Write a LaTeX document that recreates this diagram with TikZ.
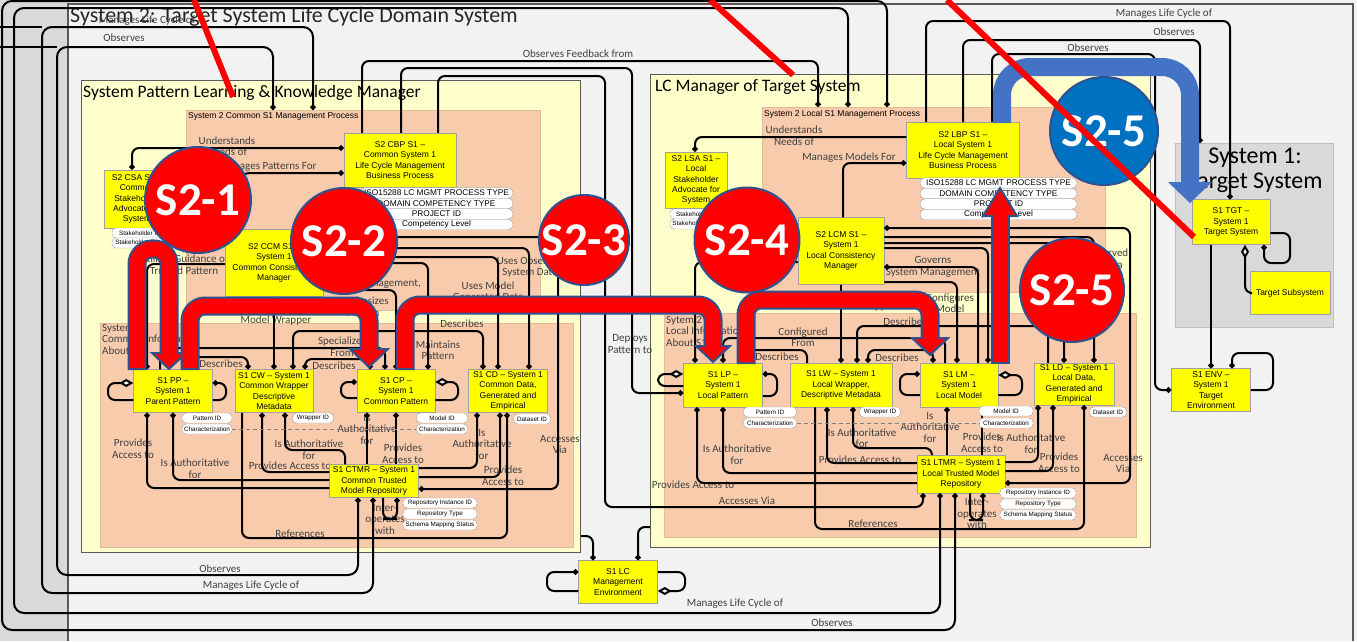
\documentclass[tikz,border=0pt]{standalone}
\usepackage{fontspec}
\setmainfont{Carlito}
\newfontfamily\boxfont{Liberation Sans}
\usepackage{tikz}
\usetikzlibrary{arrows.meta}
\definecolor{bggray}{RGB}{242,242,242}
\definecolor{stripgray}{RGB}{217,217,217}
\definecolor{framegray}{RGB}{89,89,89}
\definecolor{paleyellow}{RGB}{255,255,204}
\definecolor{salmon}{RGB}{248,203,173}
\definecolor{salmonline}{RGB}{228,186,152}
\definecolor{nodeyellow}{RGB}{255,255,0}
\definecolor{nodeline}{RGB}{160,160,160}
\definecolor{labelgray}{RGB}{64,64,64}
\definecolor{sysgray}{RGB}{217,217,217}
\definecolor{sysline}{RGB}{191,191,191}
\definecolor{markred}{RGB}{255,0,0}
\definecolor{markblue}{RGB}{0,112,192}
\definecolor{arrowblue}{RGB}{68,114,196}
\definecolor{rimblue}{RGB}{47,82,143}

\begin{document}
\begin{tikzpicture}[x=1pt,y=-1pt,
  panel/.style={draw=framegray, line width=1pt, fill=paleyellow, anchor=north west, inner sep=0pt},
  salmonbox/.style={draw=salmonline, line width=0.6pt, fill=salmon, anchor=north west, inner sep=0pt},
  ybox/.style={draw=nodeline, line width=0.5pt, fill=nodeyellow, font=\boxfont\fontsize{8.5}{10.3}\selectfont, align=center, inner sep=1pt},
  tagbox/.style={draw=nodeline, line width=0.4pt, fill=white, rounded corners=4pt, font=\boxfont\fontsize{6.3}{7}\selectfont, inner sep=0.5pt, minimum height=10pt},
  bigtag/.style={tagbox, font=\boxfont\fontsize{8.3}{9}\selectfont, minimum height=10.5pt, rounded corners=5pt},
  lab/.style={font=\fontsize{11}{11.5}\selectfont, text=labelgray, align=center, inner sep=0pt},
  conn/.style={draw=black, line width=2pt, rounded corners=7pt},
  dotS/.style={{Circle[length=5.5pt]}-},
  dotE/.style={-{Circle[length=5.5pt]}},
  dotB/.style={{Circle[length=5.5pt]}-{Circle[length=5.5pt]}},
  diamS/.style={{Diamond[length=14pt,width=8pt,fill=white]}-},
  dashline/.style={draw=gray, line width=0.8pt, dash pattern=on 4pt off 3pt},
  rimpath/.style={draw=rimblue, line width=19pt, rounded corners=15pt},
  redpath/.style={draw=markred, line width=15pt, rounded corners=15pt},
  headred/.style={fill=markred, draw=rimblue, line width=2pt, line join=miter},
  badge/.style={circle, draw=rimblue, line width=2pt, text=white, font=\bfseries\fontsize{47}{47}\selectfont, inner sep=0pt},
  slash/.style={draw=markred, line width=6pt}]
\useasboundingbox (0,0) rectangle (1357,641);

% Backdrop and outer frame
\fill[bggray] (0,0) rectangle (1357,641);
\fill[stripgray] (0,0) rectangle (68,641);
\draw[framegray, line width=1.5pt] (68,641) -- (68,4) -- (1353,4) -- (1353,641);
\node[anchor=west, font=\fontsize{22}{24}\selectfont, text=black!85, inner sep=0pt] (sysTitle) at (70,17) {System 2: Target System Life Cycle Domain System};

% Containers
\node[panel, minimum width=499pt, minimum height=472pt] (lpanel) at (81,80) {};
\node[anchor=west, font=\fontsize{17.5}{20}\selectfont, inner sep=0pt] (lpanelTitle) at (83,93) {System Pattern Learning \& Knowledge Manager};
\node[salmonbox, minimum width=354pt, minimum height=200pt] (lss) at (186,110) {};
\node[anchor=west, font=\boxfont\fontsize{8.5}{10}\selectfont, inner sep=0pt] (lssTitle) at (188,116) {System 2 Common S1 Management Process};
\node[salmonbox, minimum width=473pt, minimum height=224pt] (lis) at (100,323) {};
\node[lab, anchor=north west, align=left] (lisTitle) at (102,324) {System 2\\Common Information\\About S1};
\node[panel, minimum width=500pt, minimum height=473pt] (rpanel) at (650,74) {};
\node[anchor=west, font=\fontsize{17.5}{20}\selectfont, inner sep=0pt] (rpanelTitle) at (655,87) {LC Manager of Target System};
\node[salmonbox, minimum width=343pt, minimum height=185pt] (rss) at (762,107) {};
\node[anchor=west, font=\boxfont\fontsize{8.5}{10}\selectfont, inner sep=0pt] (rssTitle) at (764,114) {System 2 Local S1 Management Process};
\node[salmonbox, minimum width=472pt, minimum height=224pt] (ris) at (664,313) {};
\node[lab, anchor=north west, align=left] (risTitle) at (666,316) {Sytem 2\\Local Information\\About S1};
\node[draw=sysline, fill=sysgray, anchor=north west, inner sep=0pt, minimum width=158pt, minimum height=184pt] (s1box) at (1175,143) {};
\node[font=\fontsize{24}{25}\selectfont, align=center, inner sep=0pt] (s1Title) at (1255,170) {System 1:\\Target System};

% Connector labels
\node[lab] (lbA) at (147,21) {Manages Life Cycle of};
\node[lab] (lbB) at (124,38) {Observes};
\node[lab] (lbC) at (220,569) {Observes};
\node[lab] (lbD) at (251,586) {Manages Life Cycle of};
\node[lab] (lbE) at (578,54) {Observes Feedback from};
\node[lab] (lbF) at (227,146) {Understands\\Needs of};
\node[lab] (lbG) at (268,167) {Manages Patterns For};
\node[lab] (lbH) at (184,264.5) {Utilizes Guidance of\\Trusted Pattern};
\node[lab] (lbI) at (276,321) {Model Wrapper};
\node[lab, anchor=east] (lbJ) at (421,284) {Management,};
\node[lab] (lbK) at (363,306.5) {Synthesizes\\Pattern};
\node[lab] (lbL) at (488,291) {Uses Model\\Generated Data};
\node[lab] (lbM) at (530,267) {Uses Observed\\System Data};
\node[lab] (lbN) at (342,346.5) {Specializes\\From};
\node[lab] (lbO) at (221,364) {Describes};
\node[lab] (lbP) at (334,366) {Describes};
\node[lab] (lbQ) at (438,350) {Maintains\\Pattern};
\node[lab] (lbR) at (462,324) {Describes};
\node[lab] (lbS) at (133,448.5) {Provides\\Access to};
\node[lab] (lbT) at (195,468.5) {Is Authoritative\\for};
\node[lab] (lbU) at (309,449.5) {Is Authoritative\\for};
\node[lab] (lbV) at (290,466) {Provides Access to};
\node[lab] (lbW) at (367,429) {Is\\Authoritative\\for};
\node[lab] (lbX) at (403,453.5) {Provides\\Access to};
\node[lab] (lbY) at (482,444) {Is\\Authoritative\\for};
\node[lab] (lbZ) at (503,475.5) {Provides\\Access to};
\node[lab] (lbAa) at (560,444.5) {Accesses\\Via};
\node[lab] (lbAb) at (385,519) {Inter-\\operates\\with};
\node[lab] (lbAc) at (300,534) {References};
\node[lab] (lbBa) at (794,135.5) {Understands\\Needs of};
\node[lab] (lbBb) at (849,158) {Manages Models For};
\node[lab] (lbBc) at (933,267) {Governs\\System Management};
\node[lab] (lbBd) at (950,303) {Configures\\Model};
\node[lab] (lbBe) at (836,307) {Consistent Model Wrapper};
\node[lab] (lbBf) at (1095,259.5) {Uses Observed\\System Data};
\node[lab] (lbBg) at (803,337) {Configured\\From};
\node[lab] (lbBh) at (777,357) {Describes};
\node[lab] (lbBi) at (897,358) {Describes};
\node[lab] (lbBj) at (905,322) {Describes};
\node[lab] (lbBk) at (630,343.5) {Deploys\\Pattern to};
\node[lab] (lbBl) at (737,454.5) {Is Authoritative\\for};
\node[lab] (lbBm) at (693,485) {Provides Access to};
\node[lab] (lbBn) at (747,501) {Accesses Via};
\node[lab] (lbBo) at (873,524) {References};
\node[lab] (lbBp) at (862,438) {Is Authoritative\\for};
\node[lab] (lbBq) at (860,460) {Provides Access to};
\node[lab] (lbBr) at (930,427) {Is\\Authoritative\\for};
\node[lab] (lbBs) at (982,442.5) {Provides\\Access to};
\node[lab] (lbBt) at (1031,443.5) {Is Authoritative\\for};
\node[lab] (lbBu) at (1059,462.5) {Provides\\Access to};
\node[lab] (lbBv) at (1123,463.5) {Accesses\\Via};
\node[lab] (lbBw) at (977,513.5) {Inter-\\operates\\with};
\node[lab] (lbBx) at (1164,14) {Manages Life Cycle of};
\node[lab] (lbBy) at (1174,32) {Observes};
\node[lab] (lbBz) at (1088,48) {Observes};
\node[lab] (lbCa) at (832,623) {Observes};
\node[lab] (lbCb) at (735,604) {Manages Life Cycle of};

% System 2 common elements
\node[ybox, minimum width=66pt, minimum height=58pt] (csa) at (137,199) {S2 CSA S1 \textendash\\Common\\Stakeholder\\Advocate for\\System};
\node[ybox, minimum width=112pt, minimum height=54pt] (cbp) at (400,160) {S2 CBP S1 \textendash\\Common System 1\\Life Cycle Management\\Business Process};
\node[ybox, minimum width=98pt, minimum height=67pt] (ccm) at (274,263) {S2 CCM S1 \textendash\\System 1\\Common Consistency\\Manager};
\node[ybox, minimum width=79pt, minimum height=43pt] (pp) at (173,391) {S1 PP \textendash\\System 1\\Parent Pattern};
\node[ybox, minimum width=78pt, minimum height=43pt] (cw) at (274,391) {S1 CW \textendash{} System 1\\Common Wrapper\\Descriptive\\Metadata};
\node[ybox, minimum width=78pt, minimum height=43pt] (cp) at (396,391) {S1 CP \textendash\\System 1\\Common Pattern};
\node[ybox, minimum width=79pt, minimum height=43pt] (cd) at (508,391) {S1 CD \textendash{} System 1\\Common Data,\\Generated and\\Empirical};
\node[ybox, minimum width=89pt, minimum height=33pt] (ctmr) at (374,481) {S1 CTMR \textendash{} System 1\\Common Trusted\\Model Repository};
\node[ybox, minimum width=79pt, minimum height=43pt] (lc) at (618,582) {S1 LC\\Management\\Environment};
% System 2 local elements
\node[ybox, minimum width=62pt, minimum height=56pt] (lsa) at (696,180) {S2 LSA S1 \textendash\\Local\\Stakeholder\\Advocate for\\System};
\node[ybox, minimum width=113pt, minimum height=56pt] (lbp) at (963,150) {S2 LBP S1 \textendash\\Local System 1\\Life Cycle Management\\Business Process};
\node[ybox, minimum width=86pt, minimum height=67pt] (lcm) at (841,251) {S2 LCM S1 \textendash\\System 1\\Local Consistency\\Manager};
\node[ybox, minimum width=79pt, minimum height=44pt] (lp) at (723,385) {S1 LP \textendash\\System 1\\Local Pattern};
\node[ybox, minimum width=102pt, minimum height=44pt] (lw) at (841,385) {S1 LW \textendash{} System 1\\Local Wrapper,\\Descriptive Metadata};
\node[ybox, minimum width=78pt, minimum height=44pt] (lm) at (959,385) {S1 LM \textendash\\System 1\\Local Model};
\node[ybox, minimum width=80pt, minimum height=42pt] (ld) at (1074,384) {S1 LD \textendash{} System 1\\Local Data,\\Generated and\\Empirical};
\node[ybox, minimum width=88pt, minimum height=38pt] (ltmr) at (961,474) {S1 LTMR \textendash{} System 1\\Local Trusted Model\\Repository};
% System 1
\node[ybox, minimum width=78pt, minimum height=45pt] (tgt) at (1231,222) {S1 TGT \textendash\\System 1\\Target System};
\node[ybox, minimum width=80pt, minimum height=43pt] (tsub) at (1290,293) {Target Subsystem};
\node[ybox, minimum width=79pt, minimum height=43pt] (env) at (1211,390) {S1 ENV \textendash\\System 1\\Target\\Environment};

% Outer loops
\coordinate (edgeA) at (0,27);
\coordinate (edgeB) at (0,47);
\draw[conn] (edgeA) -- (42,27);
\draw[conn] (edgeB) -- (57,47);
\draw[conn,rounded corners=10pt,dotB] (ctmr.south -| 358,0) |- (57,575) -- (57,47) -| (lss.north -| 273,0);
\draw[conn,rounded corners=10pt,dotB] (ctmr.south -| 373,0) |- (42,593) -- (42,27) -| (lss.north -| 313,0);
\draw[conn,rounded corners=10pt,dotB] (ltmr.south -| 955,0) |- (2,630) -- (2,1) -| (rss.north -| 887,0);
\draw[conn,rounded corners=10pt,dotB] (ltmr.south -| 940,0) |- (14,613) -- (14,8) -| (rss.north -| 848,0);
\draw[conn,dotE] (cbp.north -| 362,0) |- (600,61) -| (rss.north -| 818,0);
\draw[conn,dotE] (cbp.north -| 401,0) |- (520,68) -| (632,393) -- (lp.west |- 0,393);
\draw[conn,dotE] (cbp.north -| 438,0) |- (520,76) -| (605,507) -| (ltmr.south -| 923,0);

% Common side
\draw[conn,dotB] (csa.north -| 132,0) |- (cbp.west |- 0,148);
\draw[conn,dotS] (cbp.west |- 0,173) -| (ccm.north -| 242,0);
\draw[conn,dotS] (pp.north -| 147,0) |- (ccm.west |- 0,264);
\draw[conn,dotB] (pp.north -| 193,0) -- (193,357) -| (cw.north -| 248,0);
\draw[conn,dotE] (ccm.south) -- (cw.north);
\draw[conn,dotE] (pp.north -| 160,0) |- (290,348) -| (cp.north -| 385,0);
\draw[conn,dotB] (cw.north -| 305,0) |- (340,359) -| (cp.north -| 370,0);
\draw[conn,dotB] (cw.north -| 293,0) |- (400,331) -| (cd.north -| 483,0);
\draw[conn,dotE] (ccm.east |- 0,263) -| (cp.north -| 428,0);
\draw[conn,dotE] (ccm.east |- 0,290) -| (cp.north -| 396,0);
\draw[conn,dotE] (ccm.east |- 0,257) -| (cd.north -| 498,0);
\draw[conn,dotE] (ccm.east |- 0,248) -| (cd.north -| 529,0);
\draw[conn,dotS] (ctmr.east |- 0,489) -| (558,237) -- (ccm.east |- 0,237);
\draw[conn,dotS] (pp.east |- 0,383) -| (226,400) -- (pp.east |- 0,400);
\draw[conn,diamS] (pp.west |- 0,383) -| (108,400) -- (pp.west |- 0,400);
\draw[conn,dotS] (cp.west |- 0,382) -| (341,398) -- (cp.west |- 0,398);
\draw[conn,diamS] (cp.east |- 0,382) -| (458,400) -- (cp.east |- 0,400);
\draw[conn,dotS] (pp.south -| 147,0) |- (ctmr.west |- 0,488);
\draw[conn,dotS] (pp.south -| 173,0) |- (ctmr.west |- 0,480);
\draw[conn,dotE] (cw.south -| 242,0) |- (400,538) -| (cd.south -| 507,0);
\draw[conn,dotS] (cw.south -| 262,0) |- (ctmr.west |- 0,472);
\draw[conn,dotS] (cw.south -| 285,0) |- (345,450) -- (ctmr.north -| 345,0);
\draw[conn,dotS] (cp.south -| 367,0) -- (ctmr.north -| 367,0);
\draw[conn,dotS] (cp.south -| 396,0) -- (ctmr.north -| 396,0);
\draw[conn,dotS] (cd.south -| 477,0) |- (ctmr.east |- 0,468);
\draw[conn,dotS] (cd.south -| 500,0) |- (ctmr.east |- 0,477);
\draw[conn,dotE] (ctmr.south -| 383,0) |- (390,519) -| (ctmr.south -| 397,0);
\draw[conn,dotS] (lc.north -| 593,0) |- (lpanel.east |- 0,536);
\draw[conn,dotS] (lc.north -| 638,0) |- (rpanel.west |- 0,527);
\draw[conn,dotS] (lc.west |- 0,572) -| (547,591) -- (lc.west |- 0,591);
\draw[conn,diamS] (lc.east |- 0,591) -| (685,572) -- (lc.east |- 0,572);

% Local side
\draw[conn,dotE] (lbp.west |- 0,137) -| (lsa.north -| 695,0);
\draw[conn,dotS] (lbp.west |- 0,163) -| (lcm.north -| 843,0);
\draw[conn,dotS] (lp.north -| 695,0) |- (lcm.west |- 0,262);
\draw[conn,dotB] (lcm.east |- 0,228) -| (1130,483) -- (ltmr.east |- 0,483);
\draw[conn,dotE] (lcm.east |- 0,237) -| (ld.north -| 1094,0);
\draw[conn,dotE] (lcm.east |- 0,243) -| (ld.north -| 1064,0);
\draw[conn,dotE] (lcm.east |- 0,248) -| (lm.north -| 988,0);
\draw[conn,dotS] (lcm.east |- 0,267) -| (lm.north -| 978,0);
\draw[conn,dotE] (lcm.east |- 0,282) -| (lm.north -| 957,0);
\draw[conn,dotE] (lcm.south) -- (lw.north);
\draw[conn,dotS] (lp.north -| 723,0) |- (850,338) -| (lm.north -| 945,0);
\draw[conn,dotS] (lp.north -| 743,0) |- (780,350) -| (lw.north -| 807,0);
\draw[conn,dotB] (lw.north -| 868,0) |- (900,350) -| (lm.north -| 933,0);
\draw[conn,dotS] (lw.north -| 857,0) |- (950,326) -| (ld.north -| 1048,0);
\draw[conn,diamS] (lp.west |- 0,374) -| (658,386) -- (lp.west |- 0,386);
\draw[conn,dotS] (lp.east |- 0,374) -| (777,396) -- (lp.east |- 0,396);
\draw[conn,dotS] (lm.west |- 0,374) -| (900,395) -- (lm.west |- 0,395);
\draw[conn,diamS] (lm.east |- 0,375) -| (1022,395) -- (lm.east |- 0,395);
\draw[conn,dotS] (lp.south -| 697,0) |- (ltmr.west |- 0,483);
\draw[conn,dotS] (lp.south -| 723,0) |- (ltmr.west |- 0,473);
\draw[conn,dotE] (lw.south -| 815,0) |- (950,529) -| (ld.south -| 1084,0);
\draw[conn,dotS] (lw.south -| 827,0) |- (ltmr.west |- 0,463);
\draw[conn,dotS] (lw.south -| 853,0) |- (900,448) -| (ltmr.north -| 932,0);
\draw[conn,dotS] (lm.south -| 947,0) -- (ltmr.north -| 947,0);
\draw[conn,dotS] (lm.south -| 982,0) -- (ltmr.north -| 982,0);
\draw[conn,dotS] (ld.south -| 1038,0) |- (ltmr.east |- 0,462);
\draw[conn,dotS] (ld.south -| 1053,0) |- (ltmr.east |- 0,471);
\draw[conn,dotE] (ltmr.south -| 970,0) |- (976,520) -| (ltmr.south -| 983,0);
\draw[conn,dotE] (lbp.north -| 926,0) |- (1100,21) -| (tgt.north -| 1230,0);
\draw[conn,dotE] (lbp.north -| 963,0) |- (1100,40) -| (s1box.north -| 1200,0);
\draw[conn,dotE] (lbp.north -| 992,0) |- (1100,54) -| (1155,390) -- (env.west);

% System 1
\draw[conn,dotE] (tgt.south -| 1211,0) -- (env.north -| 1211,0);
\draw[conn,dotE] (tgt.east |- 0,233) -| (1290,263) -| (tgt.south -| 1264,0);
\draw[conn,diamS] (tgt.south -| 1245,0) |- (tsub.west);
\draw[conn,dotS] (env.north -| 1232,0) |- (1255,353) -| (1273,390) -- (env.east |- 0,390);

% Attribute tags
\node[bigtag, minimum width=153pt] (cbpt1) at (436.5,193) {ISO15288 LC MGMT PROCESS TYPE};
\node[bigtag, minimum width=153pt] (cbpt2) at (436.5,203.5) {DOMAIN COMPETENCY TYPE};
\node[bigtag, minimum width=153pt] (cbpt3) at (436.5,214) {PROJECT ID};
\node[bigtag, minimum width=153pt] (cbpt4) at (436.5,224.5) {Competency Level};
\node[bigtag, minimum width=157pt] (lbpt1) at (998.5,183) {ISO15288 LC MGMT PROCESS TYPE};
\node[bigtag, minimum width=157pt] (lbpt2) at (998.5,193.5) {DOMAIN COMPETENCY TYPE};
\node[bigtag, minimum width=157pt] (lbpt3) at (998.5,204) {PROJECT ID};
\node[bigtag, minimum width=157pt] (lbpt4) at (998.5,214.5) {Competency Level};
\node[tagbox, minimum width=56pt] (csat1) at (140,233) {Stakeholder ID};
\node[tagbox, minimum width=56pt] (csat2) at (140,243) {Stakeholder Type};
\node[tagbox, minimum width=54pt] (lsat1) at (697,214) {Stakeholder ID};
\node[tagbox, minimum width=54pt] (lsat2) at (697,224) {Stakeholder Type};
\node[tagbox, minimum width=50pt] (ppt1) at (207,418) {Pattern ID};
\node[tagbox, minimum width=50pt] (ppt2) at (207,429) {Characterization};
\node[tagbox, minimum width=41pt] (cwt1) at (313,418) {Wrapper ID};
\node[tagbox, minimum width=51pt] (cpt1) at (442,418) {Model ID};
\node[tagbox, minimum width=51pt] (cpt2) at (442,429) {Characterization};
\node[tagbox, minimum width=37pt] (cdt1) at (532,419) {Dataset ID};
\node[tagbox, minimum width=74pt] (ctmrt1) at (440,503) {Repository Instance ID};
\node[tagbox, minimum width=74pt] (ctmrt2) at (440,514) {Repository Type};
\node[tagbox, minimum width=74pt] (ctmrt3) at (440,525) {Schema Mapping Status};
\node[tagbox, minimum width=53pt] (lpt1) at (770,412) {Pattern ID};
\node[tagbox, minimum width=53pt] (lpt2) at (770,423) {Characterization};
\node[tagbox, minimum width=41pt] (lwt1) at (880,412) {Wrapper ID};
\node[tagbox, minimum width=54pt] (lmt1) at (1006,411) {Model ID};
\node[tagbox, minimum width=54pt] (lmt2) at (1006,423) {Characterization};
\node[tagbox, minimum width=37pt] (ldt1) at (1108,412) {Dataset ID};
\node[tagbox, minimum width=76pt] (ltmrt1) at (1038,493) {Repository Instance ID};
\node[tagbox, minimum width=76pt] (ltmrt2) at (1038,504) {Repository Type};
\node[tagbox, minimum width=76pt] (ltmrt3) at (1038,515) {Schema Mapping Status};
\draw[dashline] (ppt2.east) -- (cpt2.west);
\draw[dashline] (lpt2.east) -- (lmt2.west);

% Step arrows
\draw[rimpath] (137,370) -- (137,249) -- (169,249) -- (169,353);
\filldraw[headred] (152,353) -- (186,353) -- (169,369) -- cycle;
\draw[redpath] (137,368) -- (137,249) -- (169,249) -- (169,356);
\draw[rimpath] (190,370) -- (190,306) -- (369,306) -- (369,349);
\filldraw[headred] (350,349) -- (388,349) -- (369,367) -- cycle;
\draw[redpath] (190,368) -- (190,306) -- (369,306) -- (369,352);
\draw[rimpath] (405,370) -- (405,305) -- (713,305) -- (713,346);
\filldraw[headred] (696,346) -- (730,346) -- (713,362) -- cycle;
\draw[redpath] (405,368) -- (405,305) -- (713,305) -- (713,349);
\draw[rimpath] (746,364) -- (746,300) -- (930,300) -- (930,338);
\filldraw[headred] (912,338) -- (948,338) -- (930,355) -- cycle;
\draw[redpath] (746,362) -- (746,300) -- (930,300) -- (930,341);
\draw[rimpath] (1000,364) -- (1000,216);
\filldraw[headred] (983,216) -- (1017,216) -- (1000,188) -- cycle;
\draw[redpath] (1000,362) -- (1000,213);
\draw[draw=arrowblue, line width=18pt, rounded corners=28pt] (1002,123) -- (1002,67) -- (1190,67) -- (1190,184);
\fill[arrowblue] (1168,182) -- (1212,182) -- (1190,203) -- cycle;

% Step badges
\node[badge, fill=markred, minimum size=106pt] (stepA) at (198,200) {S2-1};
\node[badge, fill=markred, minimum size=106pt] (stepB) at (344,241) {S2-2};
\node[badge, fill=markred, minimum size=90pt] (stepC) at (584,240) {S2-3};
\node[badge, fill=markred, minimum size=105pt] (stepD) at (747,240) {S2-4};
\node[badge, fill=markred, minimum size=104pt] (stepE) at (1072,290) {S2-5};
\node[badge, fill=markblue, minimum size=108pt] (stepF) at (1104,131) {S2-5};

% Strike-through marks
\draw[slash] (194,0) -- (233,97);
\draw[slash] (710,0) -- (793,75);
\draw[slash] (947,0) -- (1194,237);
\end{tikzpicture}
\end{document}
